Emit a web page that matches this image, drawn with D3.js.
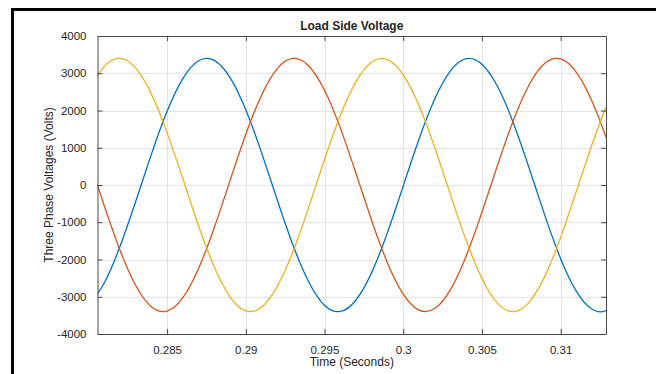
<!DOCTYPE html>
<html>
<head>
<meta charset="utf-8">
<script src="https://cdn.jsdelivr.net/npm/d3@7"></script>
<style>
  body { margin: 0; background: #fff; }
  text { font-family: "Liberation Sans", Arial, sans-serif; fill: #262626; }
</style>
</head>
<body>
<script>
// sample times (s)
const times = [0.280, 0.281, 0.282, 0.283, 0.284, 0.285, 0.286, 0.287, 0.288, 0.289,
  0.290, 0.291, 0.292, 0.293, 0.294, 0.295, 0.296, 0.297, 0.298, 0.299,
  0.300, 0.301, 0.302, 0.303, 0.304, 0.305, 0.306, 0.307, 0.308, 0.309,
  0.310, 0.311, 0.312, 0.313, 0.314];

// phase voltages (V)
const phaseA = [-3242, -2636, -1660, -451, 821, 1978, 2857, 3335, 3345, 2884,
  2019, 870, -401, -1616, -2603, -3226, -3395, -3087, -2346, -1275,
  -26, 1228, 2308, 3065, 3392, 3242, 2636, 1660, 451, -821,
  -1978, -2857, -3335, -3345, -2884];
const phaseB = [732, -542, -1739, -2693, -3268, -3384, -3025, -2241, -1142, 117,
  1360, 2411, 3124, 3399, 3196, 2543, 1534, 310, -958, -2092,
  -2931, -3360, -3316, -2807, -1903, -732, 542, 1739, 2693, 3268,
  3384, 3025, 2241, 1142, -117];
const phaseC = [2510, 3178, 3399, 3144, 2447, 1406, 168, -1094, -2203, -3001,
  -3379, -3281, -2723, -1783, -593, 683, 1861, 2777, 3304, 3367,
  2957, 2132, 1008, -258, -1489, -2510, -3178, -3399, -3144, -2447,
  -1406, -168, 1094, 2203, 3001];

const xTicks = [0.285, 0.29, 0.295, 0.3, 0.305, 0.31];
const yTicks = [-4000, -3000, -2000, -1000, 0, 1000, 2000, 3000, 4000];
const colors = ["#0072BD", "#D95319", "#EDB120"];

const width = 656, height = 374;
const margin = { left: 97.5, right: 50, top: 36, bottom: 40 };
const x0 = margin.left, x1 = width - margin.right;
const y0 = margin.top, y1 = height - margin.bottom;

const svg = d3.select("body").append("svg")
  .attr("width", width)
  .attr("height", height);

// figure frame
svg.append("rect")
  .attr("x", 12.5).attr("y", 9.5)
  .attr("width", width + 20).attr("height", height + 20)
  .attr("fill", "none")
  .attr("stroke", "#000")
  .attr("stroke-width", 3);

const x = d3.scaleLinear().domain([0.28058, 0.31288]).range([x0, x1]);
const y = d3.scaleLinear().domain([-4000, 4000]).range([y1, y0]);

// grid
svg.append("g").selectAll("line")
  .data(xTicks).enter().append("line")
  .attr("x1", d => Math.round(x(d)) + 0.5).attr("x2", d => Math.round(x(d)) + 0.5)
  .attr("y1", y0).attr("y2", y1)
  .attr("stroke", "#e3e3e3");
svg.append("g").selectAll("line")
  .data(yTicks).enter().append("line")
  .attr("y1", d => Math.round(y(d)) + 0.5).attr("y2", d => Math.round(y(d)) + 0.5)
  .attr("x1", x0).attr("x2", x1)
  .attr("stroke", "#e3e3e3");

// lines
svg.append("clipPath").attr("id", "clip")
  .append("rect").attr("x", x0).attr("y", y0).attr("width", x1 - x0).attr("height", y1 - y0);

const line = d3.line()
  .x((d, i) => x(times[i]))
  .y(d => y(d))
  .curve(d3.curveNatural);

svg.append("g").attr("clip-path", "url(#clip)")
  .selectAll("path")
  .data([phaseA, phaseB, phaseC])
  .enter().append("path")
  .attr("d", line)
  .attr("fill", "none")
  .attr("stroke", (d, i) => colors[i])
  .attr("stroke-width", 1.3);

// axes (ticks inside, box on)
const tickFmt = d => String(d);
svg.append("g").attr("transform", `translate(0,${y1})`)
  .call(d3.axisBottom(x).tickValues(xTicks).tickFormat(tickFmt).tickSizeInner(-5).tickSizeOuter(0).tickPadding(12));
svg.append("g").attr("transform", `translate(0,${y0})`)
  .call(d3.axisTop(x).tickValues(xTicks).tickFormat("").tickSizeInner(-5).tickSizeOuter(0));
svg.append("g").attr("transform", `translate(${x0},0)`)
  .call(d3.axisLeft(y).tickValues(yTicks).tickFormat(tickFmt).tickSizeInner(-5).tickSizeOuter(0).tickPadding(11));
svg.append("g").attr("transform", `translate(${x1},0)`)
  .call(d3.axisRight(y).tickValues(yTicks).tickFormat("").tickSizeInner(-5).tickSizeOuter(0));

svg.selectAll(".domain").attr("stroke", "#4a4a4a");
svg.selectAll(".tick line").attr("stroke", "#4a4a4a");
svg.selectAll(".tick text")
  .style("font-family", "'Liberation Sans', Arial, sans-serif")
  .style("font-size", "11.5px")
  .attr("fill", "#262626");

// title and labels
svg.append("text")
  .attr("x", (x0 + x1) / 2).attr("y", 30)
  .attr("text-anchor", "middle")
  .style("font-size", "12px").style("font-weight", "bold")
  .text("Load Side Voltage");

svg.append("text")
  .attr("x", (x0 + x1) / 2).attr("y", 366)
  .attr("text-anchor", "middle")
  .style("font-size", "12px")
  .text("Time (Seconds)");

svg.append("text")
  .attr("transform", `translate(53,${(y0 + y1) / 2}) rotate(-90)`)
  .attr("text-anchor", "middle")
  .style("font-size", "12px")
  .text("Three Phase Voltages (Volts)");
</script>
</body>
</html>
